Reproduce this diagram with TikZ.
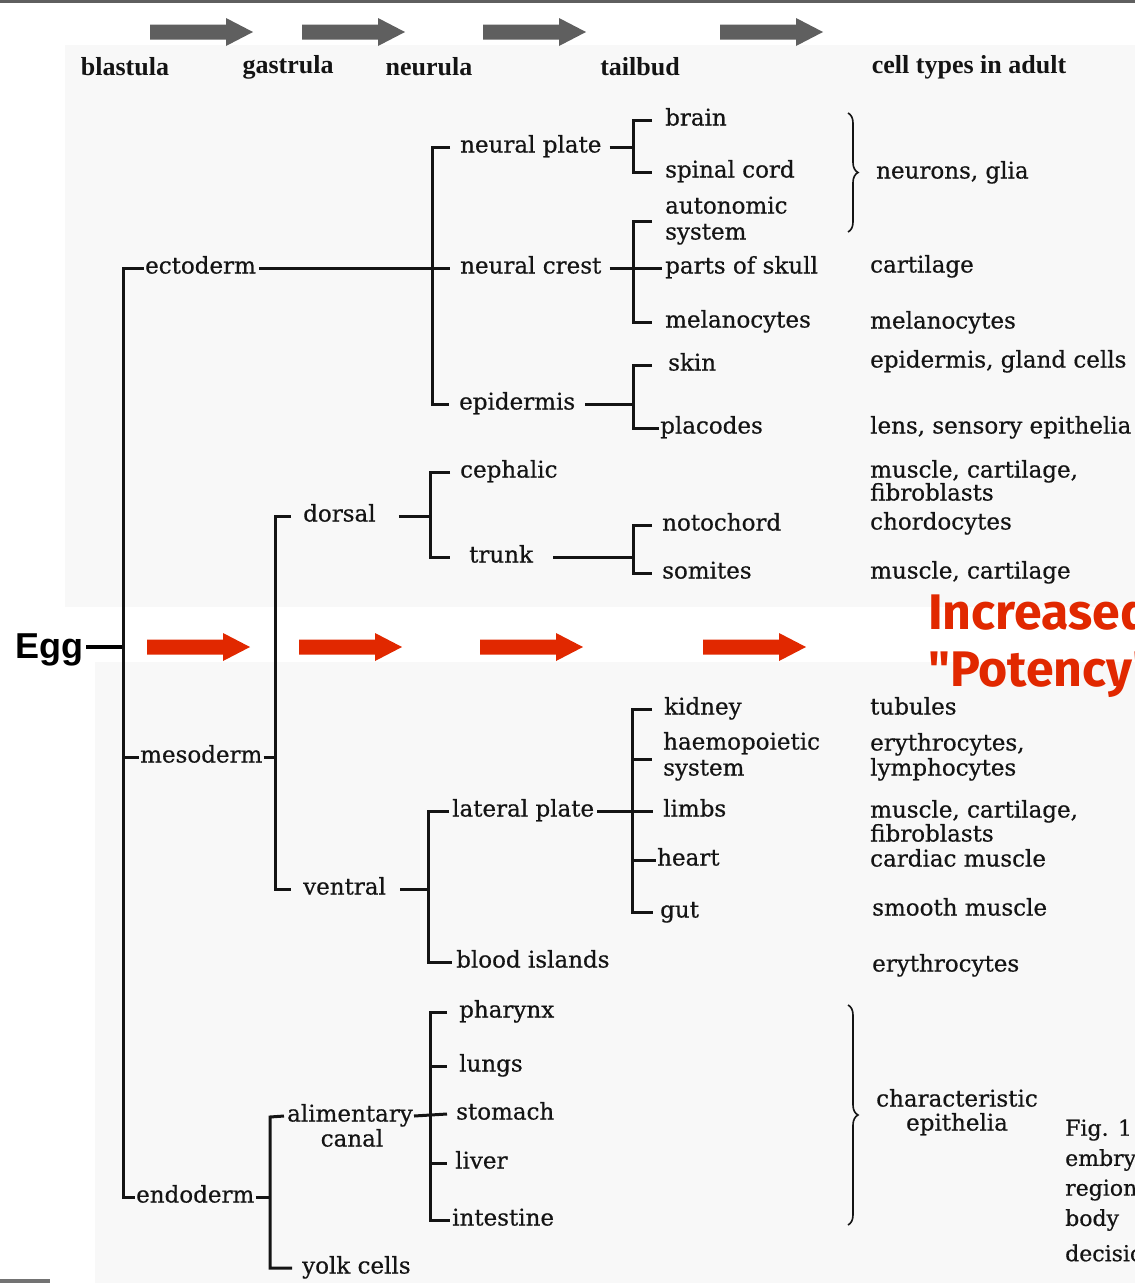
\documentclass[tikz,border=0pt]{standalone}
\usepackage{fontspec}
\setmainfont{DejaVu Serif}
\newfontfamily\lblfont{DejaVu Serif}[FakeBold=0.6]
\newfontfamily\headfont{Liberation Serif}
\newfontfamily\potfont{Fira Sans}
\newfontfamily\eggfont{Liberation Sans}
\usetikzlibrary{decorations.pathreplacing}
\definecolor{panel}{HTML}{F8F8F8}
\definecolor{ink}{HTML}{141414}
\definecolor{garrow}{HTML}{5F5F5F}
\definecolor{rarrow}{HTML}{E12800}
\begin{document}
\begin{tikzpicture}[x=1pt,y=-1pt,
  lbl/.style={anchor=west, inner sep=0pt, font=\lblfont\fontsize{23}{25}\selectfont, text height=17pt, text depth=6pt, text=ink},
  ctrlbl/.style={lbl, anchor=center},
  head/.style={anchor=center, inner sep=0pt, font=\headfont\bfseries\fontsize{26}{28}\selectfont, text=ink},
  figtxt/.style={anchor=west, inner sep=0pt, font=\lblfont\fontsize{22}{24}\selectfont, text=ink},
  tree/.style={draw=ink, line width=3pt},
  bracestyle/.style={draw=ink, line width=1.6pt, decorate, decoration={brace, amplitude=10pt}},
  blockarrow/.pic={\fill (0,-7.5) -- (76,-7.5) -- (76,-14) -- (103,0) -- (76,14) -- (76,7.5) -- (0,7.5) -- cycle;}
]
\useasboundingbox (0,0) rectangle (1135,1283);
\clip (0,0) rectangle (1135,1283);
% background panels
\fill[white] (0,0) rectangle (1135,1283);
\fill[panel] (65,45) rectangle (1135,607);
\fill[panel] (95,662) rectangle (1135,1283);
\fill[garrow] (0,0) rectangle (1135,2.5);
\fill[black!55] (0,1279) rectangle (50,1283);

% gray stage arrows
\pic[garrow] at (150,32) {blockarrow};
\pic[garrow] at (302,32) {blockarrow};
\pic[garrow] at (483,32) {blockarrow};
\pic[garrow] at (720,32) {blockarrow};

% headings
\node[head] (hb) at (125,67) {blastula};
\node[head] (hg) at (288,67) {gastrula};
\node[head] (hn) at (429,67) {neurula};
\node[head] (ht) at (640,67) {tailbud};
\node[head] (hc) at (969,67) {cell types in adult};

% red arrows
\pic[rarrow] at (147,647) {blockarrow};
\pic[rarrow] at (299,647) {blockarrow};
\pic[rarrow] at (480,647) {blockarrow};
\pic[rarrow] at (703,647) {blockarrow};
\node[anchor=west, inner sep=0pt, text=rarrow, font=\potfont\bfseries\fontsize{50}{52}\selectfont] (inc) at (928,611) {Increased};
\node[anchor=west, inner sep=0pt, text=rarrow, font=\potfont\bfseries\fontsize{50}{52}\selectfont] (pot) at (928,675) {"Potency"};

% Egg
\node[anchor=east, inner sep=0pt, font=\eggfont\bfseries\fontsize{36}{38}\selectfont] (egg) at (84,650) {Egg};
\coordinate (spT) at (123,268);
\coordinate (spB) at (123,1197);
\draw[draw=black, line width=3.5pt] ([xshift=2pt]egg.east |- 0,647) -- (spT |- 0,647);

% germ layers
\node[lbl] (ecto) at (145,268) {ectoderm};
\node[lbl] (meso) at (140,757) {mesoderm};
\node[lbl] (endo) at (136,1197) {endoderm};
\draw[tree] ([xshift=-1pt]ecto.west) -- (spT) -- (spB) -- ([xshift=-1pt]endo.west);
\draw[tree] (spT |- meso.west) -- ([xshift=-1pt]meso.west);

% ===== ectoderm =====
\coordinate (ecT) at (432,147);
\coordinate (ecB) at (432,404);
\node[lbl] (np) at (460,147) {neural plate};
\node[lbl] (nc) at (460,268) {neural crest};
\node[lbl] (epi) at (459,404) {epidermis};
\draw[tree] ([xshift=3pt]ecto.east) -- (ecT |- ecto.east);
\draw[tree] ([xshift=-10pt]np.west) -- (ecT) -- (ecB) -- ([xshift=-10pt]epi.west);
\draw[tree] (ecT |- nc.west) -- ([xshift=-10pt]nc.west);

% neural plate
\coordinate (npT) at (633,120);
\coordinate (npB) at (633,172);
\node[lbl] (brain) at (665,120) {brain};
\node[lbl] (spinal) at (665,172) {spinal cord};
\draw[tree] ([xshift=8pt]np.east) -- (npT |- np.east);
\draw[tree] ([xshift=-13pt]brain.west) -- (npT) -- (npB) -- ([xshift=-13pt]spinal.west);

% neural crest
\coordinate (ncT) at (633,221);
\coordinate (ncB) at (633,322);
\node[lbl] (auto1) at (665,208) {autonomic};
\node[lbl] (auto2) at (665,234) {system};
\node[lbl] (skull) at (665,268) {parts of skull};
\node[lbl] (mel) at (665,322) {melanocytes};
\draw[tree] ([xshift=8pt]nc.east) -- (skull.west -| ncT);
\draw[tree] ([xshift=-13pt]auto1.west |- ncT) -- (ncT) -- (ncB) -- ([xshift=-13pt]mel.west);
\draw[tree] (ncT |- skull.west) -- ([xshift=-3pt]skull.west);

% epidermis
\coordinate (epT) at (633,365);
\coordinate (epB) at (633,428);
\node[lbl] (skin) at (668,365) {skin};
\node[lbl] (plac) at (660,428) {placodes};
\draw[tree] ([xshift=10pt]epi.east) -- (epT |- epi.east);
\draw[tree] ([xshift=-16pt]skin.west) -- (epT) -- (epB) -- ([xshift=-1pt]plac.west);

% ===== mesoderm =====
\coordinate (meT) at (275,516);
\coordinate (meB) at (275,889);
\node[lbl] (dors) at (303,516) {dorsal};
\node[lbl] (vent) at (303,889) {ventral};
\draw[tree] ([xshift=1pt]meso.east) -- (meT |- meso.east);
\draw[tree] ([xshift=-12pt]dors.west) -- (meT) -- (meB) -- ([xshift=-12pt]vent.west);

% dorsal
\coordinate (doT) at (430,472);
\coordinate (doB) at (430,557);
\node[lbl] (ceph) at (460,472) {cephalic};
\node[lbl] (trunk) at (469,557) {trunk};
\draw[tree] ([xshift=23pt]dors.east) -- (doT |- dors.east);
\draw[tree] ([xshift=-10pt]ceph.west) -- (doT) -- (doB) -- ([xshift=-19pt]trunk.west);

% trunk
\coordinate (trT) at (633,525);
\coordinate (trB) at (633,573);
\node[lbl] (noto) at (662,525) {notochord};
\node[lbl] (somi) at (662,573) {somites};
\draw[tree] ([xshift=20pt]trunk.east) -- (trT |- trunk.east);
\draw[tree] ([xshift=-10pt]noto.west) -- (trT) -- (trB) -- ([xshift=-10pt]somi.west);

% ventral
\coordinate (veT) at (428,811);
\coordinate (veB) at (428,962);
\node[lbl] (latp) at (452,811) {lateral plate};
\node[lbl] (blood) at (456,962) {blood islands};
\draw[tree] ([xshift=14pt]vent.east) -- (veT |- vent.east);
\draw[tree] ([xshift=-3pt]latp.west) -- (veT) -- (veB) -- ([xshift=-4pt]blood.west);

% lateral plate
\coordinate (lpT) at (632,709);
\coordinate (lpB) at (632,912);
\node[lbl] (kid) at (664,709) {kidney};
\node[lbl] (haem1) at (663,744) {haemopoietic};
\node[lbl] (haem2) at (663,770) {system};
\node[lbl] (limbs) at (663,811) {limbs};
\node[lbl] (heart) at (657,860) {heart};
\node[lbl] (gut) at (660,912) {gut};
\draw[tree] ([xshift=3pt]latp.east) -- ([xshift=-10pt]limbs.west);
\draw[tree] ([xshift=-12pt]kid.west) -- (lpT) -- (lpB) -- ([xshift=-7pt]gut.west);
\draw[tree] (lpT |- 0,759) -- ([xshift=-11pt]haem1.west |- 0,759);
\draw[tree] (lpT |- heart.west) -- ([xshift=-1pt]heart.west);

% ===== endoderm =====
\coordinate (enT) at (270,1117);
\coordinate (enB) at (270,1268);
\node[lbl] (ali) at (287,1116) {alimentary};
\node[ctrlbl] (canal) at (352,1141) {canal};
\node[lbl] (yolk) at (302,1268) {yolk cells};
\draw[tree] ([xshift=1pt]endo.east) -- (enT |- endo.east);
\draw[tree] ([xshift=-3pt]ali.west) -- (enT) -- (enB) -- ([xshift=-10pt]yolk.west);

\coordinate (alT) at (430,1012);
\coordinate (alB) at (430,1220);
\node[lbl] (phar) at (459,1012) {pharynx};
\node[lbl] (lung) at (459,1066) {lungs};
\node[lbl] (stom) at (456,1114) {stomach};
\node[lbl] (liver) at (455,1163) {liver};
\node[lbl] (intest) at (452,1220) {intestine};
\draw[tree] ([xshift=-12pt]phar.west) -- (alT) -- (alB) -- ([xshift=-2pt]intest.west);
\draw[tree] ([xshift=1pt]ali.east) -- ([xshift=-9pt]stom.west);
\draw[tree] (alT |- lung.west) -- ([xshift=-12pt]lung.west);
\draw[tree] (alT |- liver.west) -- ([xshift=-8pt]liver.west);

% ===== cell types in adult =====
\coordinate (br1a) at (848,113);
\coordinate (br1b) at (848,232);
\draw[bracestyle] (br1a) -- (br1b);
\node[lbl] (neur) at (876,173) {neurons, glia};
\node[lbl] (c1) at (870,267) {cartilage};
\node[lbl] (c2) at (870,323) {melanocytes};
\node[lbl] (c3) at (870,362) {epidermis, gland cells};
\node[lbl] (c4) at (870,428) {lens, sensory epithelia};
\node[lbl] (c5) at (870,472) {muscle, cartilage,};
\node[lbl] (c5b) at (870,495) {fibroblasts};
\node[lbl] (c6) at (870,524) {chordocytes};
\node[lbl] (c7) at (870,573) {muscle, cartilage};
\node[lbl] (c8) at (870,709) {tubules};
\node[lbl] (c9) at (870,745) {erythrocytes,};
\node[lbl] (c9b) at (870,770) {lymphocytes};
\node[lbl] (c10) at (870,812) {muscle, cartilage,};
\node[lbl] (c10b) at (870,836) {fibroblasts};
\node[lbl] (c11) at (870,861) {cardiac muscle};
\node[lbl] (c12) at (872,910) {smooth muscle};
\node[lbl] (c13) at (872,966) {erythrocytes};
\coordinate (br2a) at (848,1005);
\coordinate (br2b) at (848,1225);
\draw[bracestyle] (br2a) -- (br2b);
\node[ctrlbl] (ch1) at (957,1101) {characteristic};
\node[ctrlbl] (ch2) at (957,1125) {epithelia};

% figure caption fragment
\node[figtxt] (f1) at (1065,1130) {Fig. 1};
\node[figtxt] (f2) at (1065,1160) {embryonic};
\node[figtxt] (f3) at (1065,1190) {regions};
\node[figtxt] (f4) at (1065,1220) {body};
\node[figtxt] (f5) at (1065,1253) {decisions};
\end{tikzpicture}
\end{document}
